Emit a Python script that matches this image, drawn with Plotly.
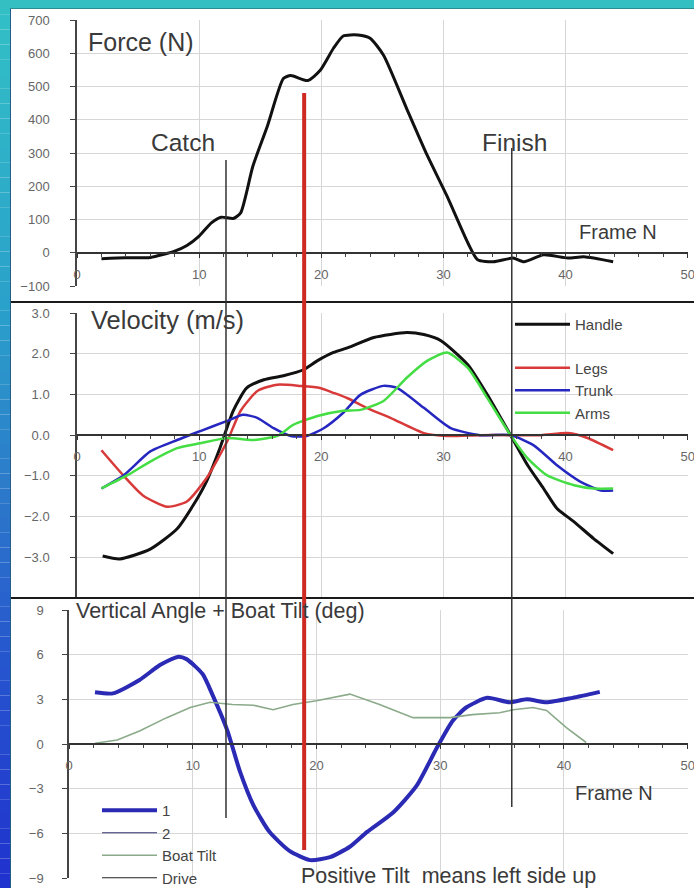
import plotly.graph_objects as go

W, H = 694, 888
FONT = "Liberation Sans, Arial, sans-serif"
GRID = "#d6d6d6"
TXT = "#3a3a3a"

# ---------------- data ----------------
# Panel 1: handle force (N) vs frame
frame_force = [2, 4, 6, 8, 9, 10, 11, 11.8, 12.8, 13.4, 14.4, 15.6, 16.9, 17.5, 18.9, 19.9,
               21, 21.8, 23, 24, 25.1, 27, 28.7, 30.3, 32, 32.8, 34.1, 35.7, 36.6, 38.2,
               40.2, 41.5, 43.9]
force = [-18, -15, -14, 5, 22, 50, 90, 107, 103, 120, 260, 382, 524, 533, 518, 548,
         615, 652, 655, 645, 594, 433, 291, 170, 30, -21, -27, -16, -27, -6,
         -16, -12, -27]

# Panel 2: velocities (m/s)
frame_handle = [2.1, 3.5, 6.0, 8.2, 9.5, 10.6, 11.7, 12.8, 13.9, 15.3, 16.9, 18.5, 19.7, 21.0,
                22.2, 24.3, 27.0, 28.4, 29.8, 32.0, 33.6, 35.5, 36.9, 38.2, 39.3, 40.7, 42.3, 43.9]
v_handle = [-2.97, -3.04, -2.8, -2.3, -1.73, -1.14, -0.32, 0.6, 1.16, 1.36, 1.46, 1.6, 1.83, 2.03,
            2.15, 2.4, 2.52, 2.47, 2.32, 1.73, 0.99, 0.0, -0.74, -1.31, -1.8, -2.13, -2.54, -2.91]

frame_legs = [2.0, 3.8, 5.4, 7.4, 9.0, 10.6, 12.3, 13.4, 14.8, 16.4, 18.3, 19.9, 21.0, 22.2,
              23.7, 25.7, 28.4, 30.3, 33, 35.5, 38, 40.2, 41.8, 43.9]
v_legs = [-0.37, -0.99, -1.48, -1.76, -1.63, -1.06, -0.15, 0.6, 1.09, 1.24, 1.21, 1.16, 1.04, 0.9,
          0.67, 0.42, 0.05, -0.02, 0.0, 0.0, 0.0, 0.05, -0.07, -0.37]

frame_trunk = [2.0, 3.8, 6.0, 8.2, 10.1, 12.3, 13.6, 14.8, 16.1, 17.5, 18.8, 20.2, 21.8, 23.2,
               25.1, 26.2, 28.4, 30.6, 33, 35.5, 37.4, 39.3, 41.2, 42.9, 43.9]
v_trunk = [-1.31, -0.99, -0.4, -0.12, 0.1, 0.35, 0.5, 0.42, 0.17, -0.02, -0.02, 0.17, 0.55, 0.99,
           1.21, 1.16, 0.67, 0.17, 0.0, 0.0, -0.25, -0.74, -1.14, -1.36, -1.36]

frame_arms = [2.0, 4.1, 6.0, 8.2, 10.1, 12.3, 14.4, 16.4, 17.7, 19.7, 21.8, 23.2, 25.1, 27.0,
              28.7, 30.3, 32.0, 33.6, 35.5, 36.9, 38.5, 40.7, 42.3, 43.9]
v_arms = [-1.31, -0.99, -0.65, -0.32, -0.2, -0.07, -0.12, -0.02, 0.25, 0.47, 0.6, 0.62, 0.84, 1.41,
          1.83, 2.03, 1.65, 0.91, 0.0, -0.57, -0.99, -1.23, -1.31, -1.31]

# Panel 3: vertical angle + boat tilt (deg)
frame_angle = [2.1, 3.55, 5.7, 7.35, 8.8, 9.5, 10.8, 11.6, 12.8, 13.8, 14.9, 16.2, 17.85, 19.5,
               21.1, 22.7, 24.1, 26.2, 28.1, 29.7, 31.0, 32.1, 33.8, 35.6, 37.0, 38.6, 40.7, 42.9]
angle_1 = [3.47, 3.4, 4.3, 5.3, 5.85, 5.7, 4.7, 3.3, 0.9, -1.8, -4.1, -5.9, -7.2, -7.8,
           -7.6, -6.9, -5.9, -4.6, -2.8, -0.3, 1.55, 2.45, 3.1, 2.8, 3.0, 2.8, 3.1, 3.5]

frame_tilt = [2.1, 3.9, 5.7, 7.9, 9.8, 11.4, 13.2, 14.9, 16.5, 18.1, 20.0, 22.7, 25.1, 27.8,
              30.8, 32.6, 34.8, 35.9, 37.5, 38.6, 40.2, 41.8]
boat_tilt = [0.05, 0.27, 0.88, 1.77, 2.45, 2.8, 2.65, 2.6, 2.3, 2.65, 2.9, 3.35, 2.65, 1.77,
             1.77, 1.97, 2.1, 2.3, 2.45, 2.25, 1.1, 0.1]

# event frames (vertical markers)
catch_frame = 12.2
finish_frame = 35.6
marker_frame = 18.6

x_ticks = [0, 10, 20, 30, 40, 50]
force_ticks = [-100, 0, 100, 200, 300, 400, 500, 600, 700]
vel_ticks = [-3, -2, -1, 0, 1, 2, 3]
angle_ticks = [-9, -6, -3, 0, 3, 6, 9]

# ---------------- helpers (layout only) ----------------
def py(p):
    return 1 - p / H

def pxx(p):
    return p / W

dom_x12 = [pxx(77), pxx(688)]
dom_x3 = [pxx(69), pxx(688)]
dom_y1 = [py(286), py(20)]
dom_y2 = [py(598), py(313)]
dom_y3 = [py(878), py(610)]
r_y1 = [-100, 700]
r_y2 = [-4, 3]
r_y3 = [-9, 9]

def zero_pos(dom, rng):
    return dom[0] + (0 - rng[0]) / (rng[1] - rng[0]) * (dom[1] - dom[0])

fig = go.Figure()

# Panel 1
fig.add_trace(go.Scatter(x=frame_force, y=force, mode="lines", showlegend=False,
                         line=dict(color="#111111", width=3, shape="spline", smoothing=0.6),
                         xaxis="x", yaxis="y"))

# Panel 2
fig.add_trace(go.Scatter(x=frame_handle, y=v_handle, mode="lines", name="Handle",
                         legend="legend2", legendgroup="g1",
                         line=dict(color="#111111", width=3, shape="spline", smoothing=0.6),
                         xaxis="x2", yaxis="y2"))
fig.add_trace(go.Scatter(x=frame_legs, y=v_legs, mode="lines", name="Legs",
                         legend="legend2", legendgroup="g2",
                         line=dict(color="#d83a3a", width=2.5, shape="spline", smoothing=0.6),
                         xaxis="x2", yaxis="y2"))
fig.add_trace(go.Scatter(x=frame_trunk, y=v_trunk, mode="lines", name="Trunk",
                         legend="legend2", legendgroup="g2",
                         line=dict(color="#2626c0", width=2.5, shape="spline", smoothing=0.6),
                         xaxis="x2", yaxis="y2"))
fig.add_trace(go.Scatter(x=frame_arms, y=v_arms, mode="lines", name="Arms",
                         legend="legend2", legendgroup="g2",
                         line=dict(color="#44dd44", width=2.5, shape="spline", smoothing=0.6),
                         xaxis="x2", yaxis="y2"))

# Panel 3
fig.add_trace(go.Scatter(x=frame_angle, y=angle_1, mode="lines", name="1", legend="legend3",
                         line=dict(color="#2a2ab4", width=4, shape="spline", smoothing=0.6),
                         xaxis="x3", yaxis="y3"))
fig.add_trace(go.Scatter(x=[None], y=[None], mode="lines", name="2", legend="legend3",
                         line=dict(color="#33336e", width=1.2), xaxis="x3", yaxis="y3"))
fig.add_trace(go.Scatter(x=frame_tilt, y=boat_tilt, mode="lines", name="Boat Tilt", legend="legend3",
                         line=dict(color="#8aaa8a", width=1.6), xaxis="x3", yaxis="y3"))
fig.add_trace(go.Scatter(x=[None], y=[None], mode="lines", name="Drive", legend="legend3",
                         line=dict(color="#222222", width=1.2), xaxis="x3", yaxis="y3"))

tickfont = dict(size=13, color="#666666", family=FONT)

def xaxis_cfg(dom, ypos):
    return dict(domain=dom, range=[0, 50.03], anchor="free", position=ypos,
                showline=True, linecolor="#333333", linewidth=1.5,
                ticks="outside", ticklen=4, tickcolor="#333333", tickvals=x_ticks,
                minor=dict(dtick=2, tick0=0, ticks="outside", ticklen=3, tickcolor="#444444",
                           showgrid=False),
                showgrid=True, gridcolor=GRID, gridwidth=1, zeroline=False,
                tickfont=tickfont, ticklabelstandoff=6, ticklabeloverflow="allow",
                automargin=False, fixedrange=True)

def yaxis_cfg(dom, rng, vals, anchor, fmt=None, standoff=18):
    d = dict(domain=dom, range=rng, anchor=anchor, tickvals=vals,
             showline=True, linecolor="#444444", linewidth=1.5,
             ticks="outside", ticklen=5, tickcolor="#444444",
             showgrid=True, gridcolor=GRID, gridwidth=1, zeroline=False,
             tickfont=tickfont, ticklabelstandoff=standoff, ticklabeloverflow="allow",
             automargin=False, fixedrange=True)
    if fmt:
        d["tickformat"] = fmt
    return d

# ---------------- shapes ----------------
shapes = []
# left gradient band
stops = [(0.0, (50, 192, 198)), (0.35, (42, 160, 202)), (0.55, (44, 122, 202)),
         (0.75, (38, 84, 206)), (1.0, (32, 50, 206))]

def col_at(t):
    for (t0, c0), (t1, c1) in zip(stops[:-1], stops[1:]):
        if t0 <= t <= t1:
            f = (t - t0) / (t1 - t0)
            return "rgb(%d,%d,%d)" % tuple(round(a + (b - a) * f) for a, b in zip(c0, c1))
    return "rgb(32,50,206)"

N = 60
for i in range(N):
    t0, t1 = i / N, (i + 1) / N
    shapes.append(dict(type="rect", xref="paper", yref="paper", x0=0, x1=pxx(10.5),
                       y0=1 - t1, y1=1 - t0, fillcolor=col_at((t0 + t1) / 2),
                       line=dict(width=0), layer="above"))
shapes.append(dict(type="rect", xref="paper", yref="paper", x0=0, x1=1, y0=py(8.5), y1=1,
                   fillcolor="#34bfc2", line=dict(width=0), layer="above"))
shapes.append(dict(type="line", xref="paper", yref="paper", x0=pxx(10.5), x1=1,
                   y0=py(8.5), y1=py(8.5), line=dict(color="#2b8c92", width=1), layer="above"))
shapes.append(dict(type="line", xref="paper", yref="paper", x0=pxx(10.5), x1=pxx(10.5),
                   y0=0, y1=py(8.5), line=dict(color="#245e86", width=1), layer="above"))
# panel separators
for ysep in (302, 598):
    shapes.append(dict(type="line", xref="paper", yref="paper", x0=pxx(11), x1=1,
                       y0=py(ysep), y1=py(ysep), line=dict(color="#1a1a1a", width=2),
                       layer="above"))
# event lines
shapes.append(dict(type="line", xref="x", yref="paper", x0=catch_frame, x1=catch_frame,
                   y0=py(818), y1=py(160), line=dict(color="#333333", width=1.5), layer="above"))
shapes.append(dict(type="line", xref="x", yref="paper", x0=finish_frame, x1=finish_frame,
                   y0=py(807), y1=py(148), line=dict(color="#333333", width=1.5), layer="above"))
shapes.append(dict(type="line", xref="x", yref="paper", x0=marker_frame, x1=marker_frame,
                   y0=py(850), y1=py(93), line=dict(color="#cc2a22", width=4), layer="above"))

# ---------------- annotations ----------------
def ann(text, x, y, xref, yref, size, xanchor="left"):
    return dict(text=text, x=x, y=y, xref=xref, yref=yref, showarrow=False,
                xanchor=xanchor, yanchor="middle", font=dict(size=size, color=TXT, family=FONT))

annotations = [
    ann("Force (N)", 0.7, 633, "x", "y", 25),
    ann("Catch", 8.7, 333, "x", "y", 24.5, "center"),
    ann("Finish", 35.8, 333, "x", "y", 24.5, "center"),
    ann("Frame N", 40.9, 63, "x", "y", 20),
    ann("Velocity (m/s)", 1.0, 2.84, "x2", "y2", 25.5),
    ann("Vertical Angle + Boat Tilt (deg)", pxx(74), py(611), "paper", "paper", 21.5),
    ann("Frame N", 40.7, -3.3, "x3", "y3", 20),
    ann("Positive Tilt  means left side up", 18.6, -8.85, "x3", "y3", 21.5),
]

legend_font = dict(size=15, color="#444444", family=FONT)

fig.update_layout(
    width=W, height=H, margin=dict(l=0, r=0, t=0, b=0, autoexpand=False),
    paper_bgcolor="white", plot_bgcolor="white",
    font=dict(family=FONT, color=TXT),
    hovermode=False,
    xaxis=xaxis_cfg(dom_x12, zero_pos(dom_y1, r_y1)),
    xaxis2=xaxis_cfg(dom_x12, zero_pos(dom_y2, r_y2)),
    xaxis3=xaxis_cfg(dom_x3, zero_pos(dom_y3, r_y3)),
    yaxis=yaxis_cfg(dom_y1, r_y1, force_ticks, "x"),
    yaxis2=yaxis_cfg(dom_y2, r_y2, vel_ticks, "x2", ".1f"),
    yaxis3=yaxis_cfg(dom_y3, r_y3, angle_ticks, "x3", standoff=16),
    legend2=dict(x=pxx(510), y=py(308), xanchor="left", yanchor="top",
                 bgcolor="rgba(0,0,0,0)", font=legend_font, itemwidth=55,
                 tracegroupgap=21, traceorder="grouped"),
    legend3=dict(x=pxx(97), y=py(794), xanchor="left", yanchor="top",
                 bgcolor="rgba(0,0,0,0)", font=legend_font, itemwidth=55,
                 tracegroupgap=0),
    shapes=shapes,
    annotations=annotations,
)

fig.write_html("out.html")
